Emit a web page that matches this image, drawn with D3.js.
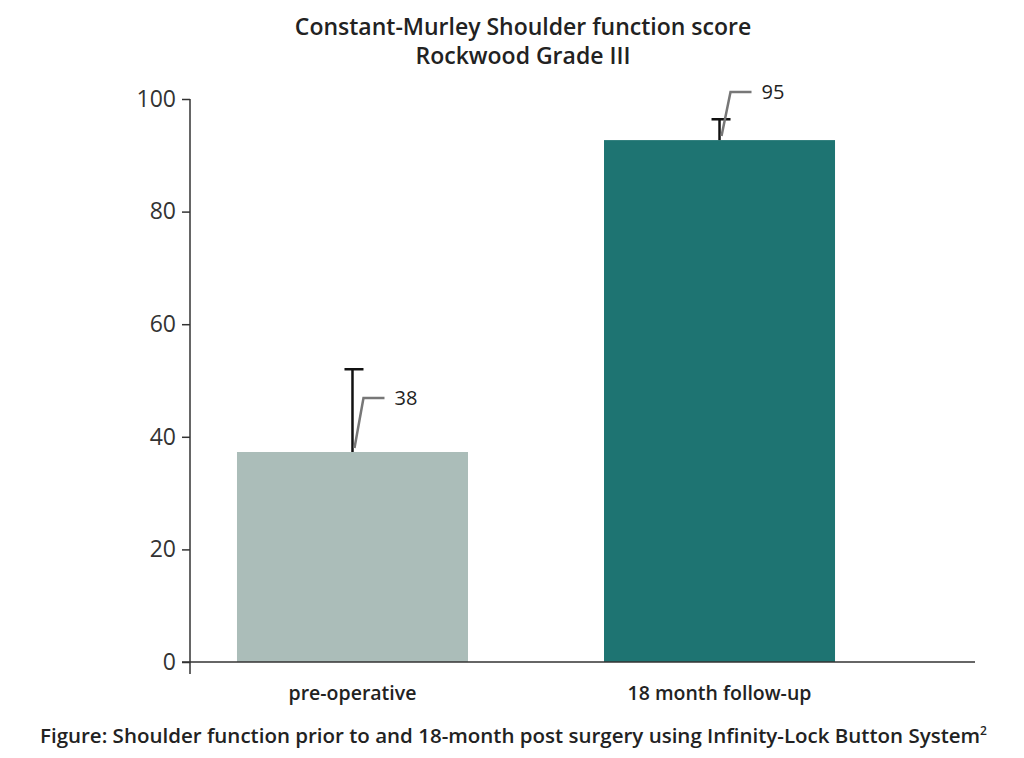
<!DOCTYPE html>
<html>
<head>
<meta charset="utf-8">
<script src="https://cdn.jsdelivr.net/npm/d3@7"></script>
<style>
  body { margin: 0; background: #fff; font-family: "Open Sans", sans-serif; }
</style>
</head>
<body>
<svg id="chart" width="1024" height="758"></svg>
<script>
// Chart data
const categories = ['pre-operative', '18 month follow-up'];
const means = [37.3, 92.7];
const errTops = [52, 96.4];
const labels = ['38', '95'];
const barColors = ['#abbdb9', '#1e7472'];
const yTicks = [0, 20, 40, 60, 80, 100];

const svg = d3.select('#chart');
const x0 = 190, x1 = 975, yBase = 662, yTop = 99;

const y = d3.scaleLinear().domain([0, 100]).range([yBase, yTop]);
const x = d3.scaleBand().domain(categories).range([x0, 882]).paddingInner(0.3706).paddingOuter(0.128);

// Title
svg.append('text').attr('x', 523).attr('y', 35).attr('text-anchor', 'middle')
    .attr('font-size', 23).attr('font-weight', 600).attr('fill', '#222')
    .text('Constant-Murley Shoulder function score');
svg.append('text').attr('x', 523).attr('y', 64).attr('text-anchor', 'middle')
    .attr('font-size', 23).attr('font-weight', 600).attr('fill', '#222')
    .text('Rockwood Grade III');

// Bars
svg.selectAll('.bar').data(categories).enter().append('rect')
    .attr('x', d => x(d))
    .attr('width', x.bandwidth())
    .attr('y', (d, i) => y(means[i]))
    .attr('height', (d, i) => yBase - y(means[i]))
    .attr('fill', (d, i) => barColors[i]);

// Error bars (upper only)
categories.forEach((c, i) => {
    const cx = x(c) + x.bandwidth() / 2;
    svg.append('line').attr('x1', cx).attr('x2', cx)
        .attr('y1', y(means[i])).attr('y2', y(errTops[i]))
        .attr('stroke', '#111').attr('stroke-width', 2.5);
    svg.append('line').attr('x1', cx - 8).attr('x2', cx + 11)
        .attr('y1', y(errTops[i])).attr('y2', y(errTops[i]))
        .attr('stroke', '#111').attr('stroke-width', 2.5);

    // leader line + value label
    const ly = y(means[i]) - (i === 0 ? 54 : 48);
    svg.append('path')
        .attr('d', `M${cx + 2},${y(means[i]) - 4} L${cx + 11},${ly} L${cx + 32},${ly}`)
        .attr('fill', 'none').attr('stroke', '#777').attr('stroke-width', 2.5);
    svg.append('text').attr('x', cx + 42).attr('y', ly + 7)
        .attr('font-size', 20).attr('fill', '#222').text(labels[i]);
});

// Axes
const yAxis = svg.append('g').attr('transform', `translate(${x0},0)`)
    .call(d3.axisLeft(y).tickValues(yTicks).tickSize(8).tickPadding(6));
yAxis.select('.domain').remove();
yAxis.append('line').attr('x1', 0).attr('x2', 0).attr('y1', yTop).attr('y2', yBase + 12)
    .attr('stroke', '#333').attr('stroke-width', 1.5);
yAxis.selectAll('.tick line').attr('stroke', '#333').attr('stroke-width', 1.5);
yAxis.selectAll('.tick text').attr('font-size', 23).attr('fill', '#333')
    .attr('font-family', '"Open Sans", sans-serif');

svg.append('line').attr('x1', x0 - 8).attr('x2', x1).attr('y1', yBase).attr('y2', yBase)
    .attr('stroke', '#333').attr('stroke-width', 1.5);

// Category labels
categories.forEach(c => {
    svg.append('text').attr('x', x(c) + x.bandwidth() / 2).attr('y', 700)
        .attr('text-anchor', 'middle').attr('font-size', 19.5).attr('font-weight', 600)
        .attr('fill', '#222').text(c);
});

// Caption
const cap = svg.append('text').attr('x', 40).attr('y', 743)
    .attr('font-size', 20.5).attr('font-weight', 600).attr('fill', '#222');
cap.append('tspan').text('Figure: Shoulder function prior to and 18-month post surgery using Infinity-Lock Button System');
cap.append('tspan').attr('font-size', 12).attr('dy', -8).text('2');
</script>
</body>
</html>
